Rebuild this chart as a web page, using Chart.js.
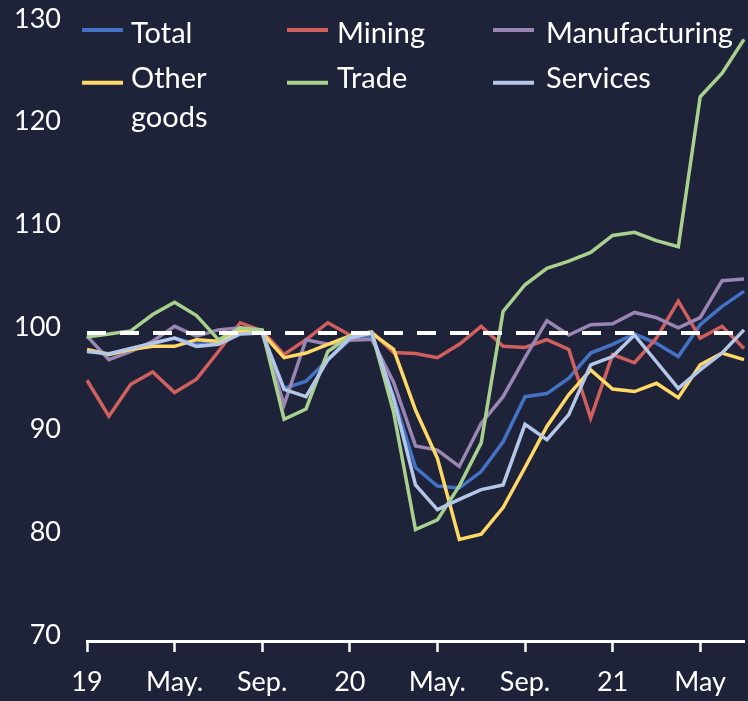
<!DOCTYPE html>
<html>
<head>
<meta charset="utf-8">
<script src="https://cdn.jsdelivr.net/npm/chart.js@4"></script>
<style>
  html, body { margin: 0; padding: 0; background: #1f233a; }
  #wrap { width: 748px; height: 701px; position: relative; }
</style>
</head>
<body>
<div id="wrap"><canvas id="c" width="748" height="701"></canvas></div>
<script>
// ---- data ----
const categories = [
  'Jan 2019','Feb 2019','Mar 2019','Apr 2019','May 2019','Jun 2019','Jul 2019','Aug 2019','Sep 2019','Oct 2019','Nov 2019','Dec 2019',
  'Jan 2020','Feb 2020','Mar 2020','Apr 2020','May 2020','Jun 2020','Jul 2020','Aug 2020','Sep 2020','Oct 2020','Nov 2020','Dec 2020',
  'Jan 2021','Feb 2021','Mar 2021','Apr 2021','May 2021','Jun 2021','Jul 2021'
];
const tickLabels = ['19', 'May.', 'Sep.', '20', 'May.', 'Sep.', '21', 'May'];
const tickEvery = 4;
const yTicks = [70, 80, 90, 100, 110, 120, 130];
const baseline = 100;

const seriesNames = ['Total', 'Mining', 'Manufacturing', 'Other goods', 'Trade', 'Services'];
const total = [98.3, 97.9, 98.5, 99.0, 99.5, 98.9, 99.0, 100.0, 100.0, 94.6, 95.3, 97.4, 99.35, 99.8, 93.8, 86.9, 85.1, 84.9, 86.5, 89.4, 93.8, 94.1, 95.6, 98.05, 98.9, 99.9, 99.0, 97.7, 100.8, 102.6, 104.05];
const mining = [95.4, 91.9, 95.0, 96.2, 94.2, 95.5, 98.2, 101.0, 100.2, 97.9, 99.35, 101.0, 99.8, 100.1, 98.1, 98.0, 97.6, 98.9, 100.65, 98.7, 98.6, 99.35, 98.4, 91.7, 97.9, 97.1, 99.5, 103.1, 99.5, 100.65, 98.5];
const manufacturing = [99.7, 97.4, 98.2, 99.2, 100.65, 99.7, 100.3, 100.5, 100.0, 93.0, 99.35, 98.9, 99.3, 99.4, 95.2, 89.0, 88.6, 87.0, 91.2, 93.8, 97.6, 101.2, 99.8, 100.8, 100.9, 102.0, 101.5, 100.5, 101.5, 105.1, 105.25];
const otherGoods = [98.4, 97.9, 98.4, 98.7, 98.7, 99.35, 99.2, 100.2, 100.0, 97.6, 98.05, 98.9, 99.7, 100.0, 98.4, 92.5, 87.8, 79.9, 80.4, 83.0, 86.9, 90.9, 94.0, 96.4, 94.55, 94.3, 95.1, 93.7, 96.9, 98.05, 97.4];
const trade = [99.6, 99.9, 100.2, 101.8, 103.0, 101.7, 99.35, 100.5, 100.3, 91.6, 92.6, 98.2, 99.7, 100.1, 92.3, 80.85, 81.8, 85.1, 89.3, 102.1, 104.7, 106.3, 107.0, 107.85, 109.5, 109.8, 109.0, 108.4, 123.0, 125.3, 128.6];
const services = [98.2, 97.98, 98.5, 99.0, 99.5, 98.7, 98.9, 99.9, 100.0, 94.5, 93.8, 97.4, 99.5, 100.0, 93.6, 85.2, 82.8, 83.8, 84.75, 85.2, 91.1, 89.6, 92.05, 96.9, 97.7, 99.8, 97.2, 94.6, 96.4, 98.05, 100.3];

const seriesValues = [total, mining, manufacturing, otherGoods, trade, services];
const seriesColors = ['#4472c4', '#d0605e', '#9a85b3', '#ffd966', '#a9d18e', '#b4c7e7'];

// ---- styles ----
const BG = '#1f233a';
const FONT = 'Lato, "Open Sans", sans-serif';

// legend layout (drawn on top of plot)
const legendCols = [82, 287, 493];
const legendTextX = [131, 337, 546];
const legendRowsSwatchY = [30, 82.7];
const legendRowsBaseline = [42.5, 87.5];
const legendLineGap = 39.5;

const bgPlugin = {
  id: 'bg',
  beforeDraw(chart) {
    const ctx = chart.ctx;
    ctx.save();
    ctx.fillStyle = BG;
    ctx.fillRect(0, 0, chart.width, chart.height);
    ctx.restore();
  }
};

const refLinePlugin = {
  id: 'refLine',
  afterDatasetsDraw(chart) {
    const ctx = chart.ctx;
    const y = chart.scales.y.getPixelForValue(baseline);
    const x0 = chart.scales.x.getPixelForValue(0);
    const x1 = chart.chartArea.right + 2;
    ctx.save();
    ctx.strokeStyle = '#ffffff';
    ctx.lineWidth = 4;
    ctx.setLineDash([19, 14]);
    ctx.beginPath();
    ctx.moveTo(x0, y);
    ctx.lineTo(x1, y);
    ctx.stroke();
    ctx.restore();
  }
};

const legendPlugin = {
  id: 'customLegend',
  afterDraw(chart) {
    const ctx = chart.ctx;
    ctx.save();
    ctx.font = '29px ' + FONT;
    ctx.textBaseline = 'alphabetic';
    ctx.textAlign = 'left';
    seriesNames.forEach((name, i) => {
      const col = i % 3, row = Math.floor(i / 3);
      const sy = legendRowsSwatchY[row];
      ctx.strokeStyle = seriesColors[i];
      ctx.lineWidth = 4;
      ctx.setLineDash([]);
      ctx.beginPath();
      ctx.moveTo(legendCols[col], sy);
      ctx.lineTo(legendCols[col] + 41, sy);
      ctx.stroke();
      ctx.fillStyle = '#ffffff';
      const words = (name === 'Other goods') ? ['Other', 'goods'] : [name];
      words.forEach((w, k) => {
        ctx.fillText(w, legendTextX[col], legendRowsBaseline[row] + k * legendLineGap);
      });
    });
    ctx.restore();
  }
};

const drawOrder = [5, 4, 3, 2, 1, 0];
const datasets = seriesNames.map((name, i) => ({
  label: name,
  data: seriesValues[i],
  borderColor: seriesColors[i],
  backgroundColor: seriesColors[i],
  borderWidth: 3.5,
  pointRadius: 0,
  pointHoverRadius: 0,
  tension: 0,
  fill: false,
  order: drawOrder[i],
  borderJoinStyle: 'miter'
}));

new Chart(document.getElementById('c'), {
  type: 'line',
  data: { labels: categories, datasets },
  options: {
    responsive: false,
    animation: false,
    events: [],
    layout: { padding: { top: 25, right: 4, left: 0, bottom: 0 } },
    plugins: { legend: { display: false }, tooltip: { enabled: false } },
    scales: {
      x: {
        type: 'category',
        offset: false,
        afterFit(scale) {
          scale.height = 60;
          scale.paddingLeft = 0; scale.paddingRight = 0;
        },
        grid: {
          display: true,
          drawOnChartArea: false,
          drawTicks: true,
          tickLength: 11,
          tickWidth: 2.5,
          tickColor: (c) => (c.index % tickEvery === 0 ? '#ffffff' : 'rgba(0,0,0,0)')
        },
        border: { display: true, color: '#ffffff', width: 3 },
        ticks: {
          autoSkip: false,
          maxRotation: 0,
          minRotation: 0,
          padding: 14,
          color: '#ffffff',
          font: { family: FONT, size: 27 },
          callback: (v, idx) => (idx % tickEvery === 0 ? tickLabels[idx / tickEvery] : '')
        }
      },
      y: {
        min: yTicks[0],
        max: yTicks[yTicks.length - 1],
        afterFit(scale) {
          scale.width = 87;
          scale.paddingTop = 0; scale.paddingBottom = 0;
        },
        afterBuildTicks(scale) { scale.ticks = yTicks.map(v => ({ value: v })); },
        grid: { display: false, drawTicks: false },
        border: { display: false },
        ticks: {
          padding: 26,
          labelOffset: -6,
          color: '#ffffff',
          font: { family: FONT, size: 27 }
        }
      }
    }
  },
  plugins: [bgPlugin, refLinePlugin, legendPlugin]
});
</script>
</body>
</html>
